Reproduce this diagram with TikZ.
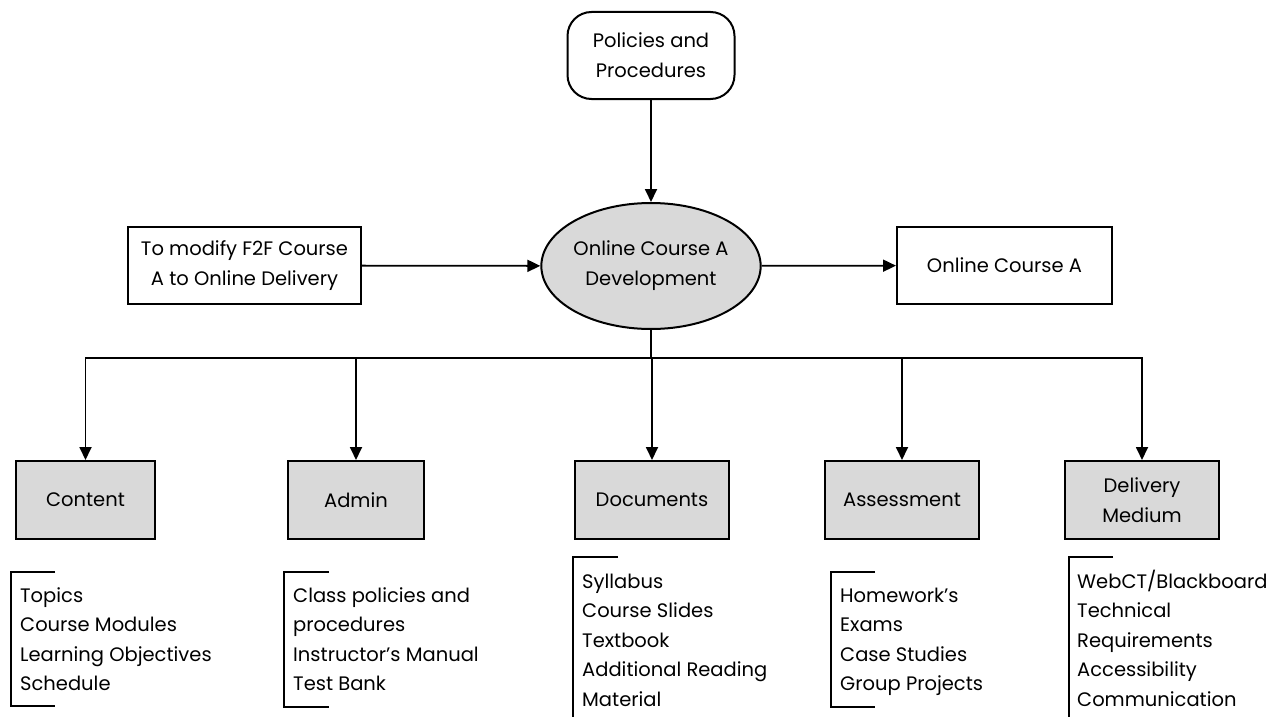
\documentclass[tikz,border=0pt]{standalone}
\usepackage{fontspec}
\setmainfont{Poppins}
\usetikzlibrary{shapes.geometric,arrows.meta}
\definecolor{boxgray}{HTML}{D9D9D9}
% a left-aligned column of lines whose reference point is the first baseline
\newcommand\linestack[1]{\vtop{\baselineskip=29.5pt\lineskiplimit=-30pt\halign{##\hfil\cr#1\crcr}}}
\tikzset{
  txt/.style={font=\fontsize{19.5}{30}\selectfont},
  plainbox/.style={txt, draw, line width=2pt, rectangle, align=center, inner sep=0pt},
  greybox/.style={plainbox, fill=boxgray, minimum height=78pt},
  roundbox/.style={plainbox, rounded corners=24pt},
  hub/.style={txt, draw, line width=2pt, ellipse, fill=boxgray, align=center, inner sep=0pt},
  conn/.style={line width=1.8pt, -{Triangle[length=13pt,width=12pt]}},
  bus/.style={line width=1.8pt},
  bracketline/.style={line width=1.8pt},
  listtxt/.style={txt, anchor=base west, inner sep=0pt},
}
\begin{document}
\begin{tikzpicture}[x=1pt,y=-1pt]
\useasboundingbox (0,0) rectangle (1288,717);

% upper row
\node[roundbox, minimum width=167pt, minimum height=87pt] (pol) at (651,55.5) {Policies and\\Procedures};
\node[hub, minimum width=211pt, minimum height=126pt] (dev) at (651,266) {Online Course A\\Development};
\node[plainbox, minimum width=233pt, minimum height=77pt] (mod) at (244.5,265.5) {To modify F2F Course\\A to Online Delivery};
\node[plainbox, minimum width=215pt, minimum height=77pt] (out) at (1004.5,265.5) {Online Course A};

\draw[conn] (pol) -- (dev);
\draw[conn] (mod) -- (dev);
\draw[conn] (dev) -- (out);

% component boxes
\node[greybox, minimum width=139pt] (content) at (85.5,500) {Content};
\node[greybox, minimum width=136pt] (admin) at (356,500) {Admin};
\node[greybox, minimum width=154pt] (docs) at (652,500) {Documents};
\node[greybox, minimum width=154pt] (assess) at (902,500) {Assessment};
\node[greybox, minimum width=154pt] (deliv) at (1142,500) {Delivery\\Medium};

% distribution bus
\coordinate (busmid) at (651,358);
\draw[bus] (dev.south) -- (busmid);
\foreach \c in {content,admin,docs,assess,deliv}
  \draw[conn] (busmid) -| (\c.north);

% item lists with their brackets
\node[listtxt] (contentlist) at (20,602) {\linestack{Topics\cr Course Modules\cr Learning Objectives\cr Schedule}};
\draw[bracketline] (55,572) -- (11,572) -- (11,706) -- (55,706);

\node[listtxt] (adminlist) at (293,602) {\linestack{Class policies and\cr procedures\cr Instructor’s Manual\cr Test Bank}};
\draw[bracketline] (329,572) -- (284,572) -- (284,707) -- (329,707);

\node[listtxt] (docslist) at (582,588) {\linestack{Syllabus\cr Course Slides\cr Textbook\cr Additional Reading\cr Material}};
\draw[bracketline] (618,557) -- (573,557) -- (573,717);

\node[listtxt] (assesslist) at (840,602) {\linestack{Homework’s\cr Exams\cr Case Studies\cr Group Projects}};
\draw[bracketline] (875,572) -- (831,572) -- (831,707) -- (875,707);

\node[listtxt] (delivlist) at (1077,588) {\linestack{WebCT/Blackboard\cr Technical\cr Requirements\cr Accessibility\cr Communication}};
\draw[bracketline] (1113,557) -- (1069,557) -- (1069,717);
\end{tikzpicture}
\end{document}
